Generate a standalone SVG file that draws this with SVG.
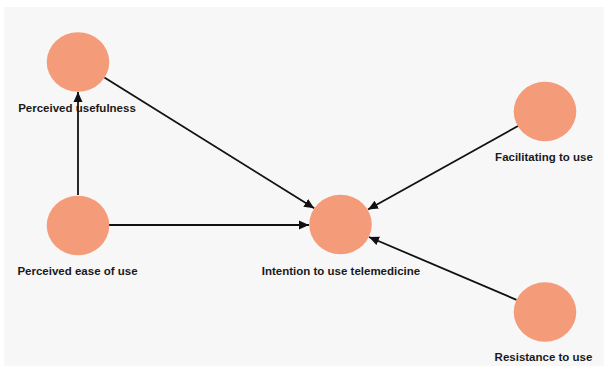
<svg xmlns="http://www.w3.org/2000/svg" width="608" height="370" viewBox="0 0 608 370">
<style>
.node{fill:#f49b7a;}
.lbl{font-family:"Liberation Sans",Arial,sans-serif;font-weight:bold;font-size:11.5px;fill:#1a1a1a;text-anchor:middle;}
.edge{stroke:#111;stroke-width:1.8;fill:none;marker-end:url(#arr);}
</style>
<defs>
<marker id="arr" viewBox="0 0 10 10" refX="10" refY="5" markerWidth="10" markerHeight="10" markerUnits="userSpaceOnUse" orient="auto">
<path d="M0,0.5 L10,5 L0,9.5 Z" fill="#111"/>
</marker>
</defs>
<rect x="0" y="0" width="608" height="370" fill="#ffffff"/>
<rect x="4" y="7" width="600" height="359" fill="#f7f7f7"/>
<g id="connectors">
<line class="edge" x1="78" y1="195" x2="78" y2="92"/>
<line class="edge" x1="104.4" y1="77.6" x2="314.2" y2="208.2"/>
<line class="edge" x1="109" y1="225" x2="309" y2="225"/>
<line class="edge" x1="518" y1="126" x2="368" y2="209.5"/>
<line class="edge" x1="516.5" y1="299.8" x2="369" y2="237"/>
</g>
<g id="perceived-usefulness">
<ellipse class="node" cx="78" cy="62" rx="31.3" ry="29.7"/>
<text class="lbl" x="77" y="111.5">Perceived usefulness</text>
</g>
<g id="perceived-ease">
<ellipse class="node" cx="78" cy="225.5" rx="31.3" ry="29.7"/>
<text class="lbl" x="77.5" y="274.5">Perceived ease of use</text>
</g>
<g id="intention">
<ellipse class="node" cx="340.5" cy="224.5" rx="31.3" ry="29.7"/>
<text class="lbl" x="341" y="274.5">Intention to use telemedicine</text>
</g>
<g id="facilitating">
<ellipse class="node" cx="545" cy="111.5" rx="31.3" ry="29.7"/>
<text class="lbl" x="544" y="161">Facilitating to use</text>
</g>
<g id="resistance">
<ellipse class="node" cx="545" cy="312" rx="31.3" ry="29.7"/>
<text class="lbl" x="543.5" y="361">Resistance to use</text>
</g>
</svg>
